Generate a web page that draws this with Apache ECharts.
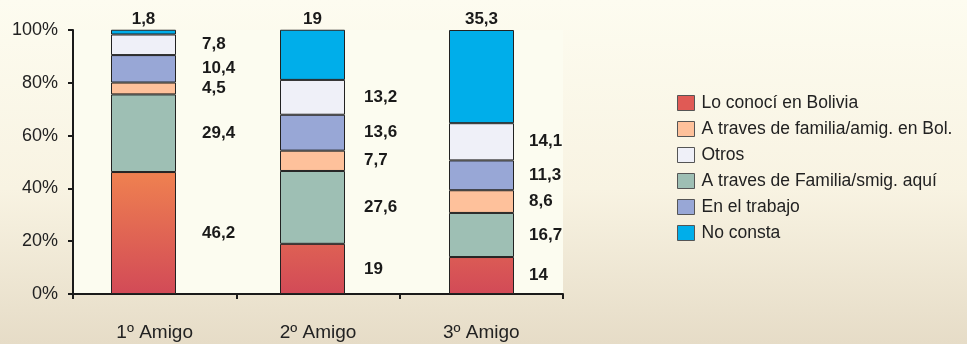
<!DOCTYPE html>
<html>
<head>
<meta charset="utf-8">
<script src="https://cdn.jsdelivr.net/npm/echarts@6/dist/echarts.min.js"></script>
<style>
  html, body { margin: 0; padding: 0; }
  #chart { width: 967px; height: 344px; }
</style>
</head>
<body>
<div id="chart"></div>
<script>
// categories along the x axis
const categories = ["1º Amigo", "2º Amigo", "3º Amigo"];
const yTicks = [0, 20, 40, 60, 80, 100];

// series values (percent), bottom of the stack first
const bolivia = [46.2, 19, 14];
const familiaAqui = [29.4, 27.6, 16.7];
const familiaBol = [4.5, 7.7, 8.6];
const trabajo = [10.4, 13.6, 11.3];
const otros = [7.8, 13.2, 14.1];
const noConsta = [1.8, 19, 35.3];

const legendOrder = [
  "Lo conocí en Bolivia",
  "A traves de familia/amig. en Bol.",
  "Otros",
  "A traves de Familia/smig. aquí",
  "En el trabajo",
  "No consta",
];

// --- styling / layout below ---
const FONT = "Liberation Sans, Arial, sans-serif";
const labelDist = [26, 19, 15];
const fmt = (v) => String(v).replace(".", ",");

const redGrad = new echarts.graphic.LinearGradient(0, 294, 0, 172, [
  { offset: 0, color: "#d24a57" },
  { offset: 1, color: "#ef8150" },
], true);

const stack = [
  { name: "Lo conocí en Bolivia", data: bolivia, color: redGrad, legendColor: "#e05a55" },
  { name: "A traves de Familia/smig. aquí", data: familiaAqui, color: "#9ebfb4" },
  { name: "A traves de familia/amig. en Bol.", data: familiaBol, color: "#fec19b" },
  { name: "En el trabajo", data: trabajo, color: "#98a7d6" },
  { name: "Otros", data: otros, color: "#eff0f8" },
  { name: "No consta", data: noConsta, color: "#00aeea", top: true },
];

const series = stack.map((s) => ({
  name: s.name,
  type: "bar",
  stack: "total",
  xAxisIndex: 1,
  yAxisIndex: 1,
  barWidth: 65,
  clip: true,
  itemStyle: { color: s.color, borderColor: "#222", borderWidth: 1 },
  label: {
    show: true,
    position: s.top ? "top" : "right",
    distance: 2,
    formatter: (p) => fmt(p.value),
    fontFamily: FONT,
    fontWeight: "bold",
    fontSize: 17,
    color: "#1a1a1a",
  },
  data: s.data.map((v, i) => ({
    value: v,
    label: s.top ? {} : { distance: labelDist[i] },
  })),
}));

const chart = echarts.init(document.getElementById("chart"));
chart.setOption({
  animation: false,
  backgroundColor: new echarts.graphic.LinearGradient(0, 0, 0, 1, [
    { offset: 0, color: "#fdfcf0" },
    { offset: 0.55, color: "#f8f3e2" },
    { offset: 1, color: "#e6dcc7" },
  ]),
  grid: [
    { left: 73, top: 30, width: 490, height: 264, show: true, backgroundColor: "#fcfcf0", borderWidth: 0 },
    { left: 59, top: 30, width: 507, height: 264 },
  ],
  legend: {
    orient: "vertical",
    left: 672,
    top: 89,
    itemWidth: 17,
    itemHeight: 15,
    itemGap: 8,
    icon: "rect",
    itemStyle: { borderColor: "#555", borderWidth: 1 },
    textStyle: { fontFamily: FONT, fontSize: 17.5, color: "#222", padding: [0, 0, 0, 2] },
    data: legendOrder.map((n) => {
      const s = stack.find((x) => x.name === n);
      return { name: n, itemStyle: { color: s.legendColor || s.color } };
    }),
  },
  xAxis: [
    {
      type: "category",
      gridIndex: 0,
      data: categories,
      axisLine: { lineStyle: { color: "#1a1a1a", width: 2 } },
      axisTick: { show: true, length: 5, lineStyle: { color: "#1a1a1a", width: 2 } },
      axisLabel: { fontFamily: FONT, fontSize: 19, color: "#222", margin: 29 },
    },
    { type: "category", gridIndex: 1, data: categories, show: false },
  ],
  yAxis: [
    {
      type: "value",
      gridIndex: 0,
      min: yTicks[0],
      max: yTicks[yTicks.length - 1],
      interval: 20,
      axisLine: { show: true, lineStyle: { color: "#1a1a1a", width: 2 } },
      axisTick: { show: true, length: 5, lineStyle: { color: "#1a1a1a", width: 2 } },
      splitLine: { show: false },
      axisLabel: { fontFamily: FONT, fontSize: 18, color: "#222", margin: 15, formatter: "{value}%" },
    },
    { type: "value", gridIndex: 1, min: 0, max: 100, show: false, splitLine: { show: false } },
  ],
  series,
});
</script>
</body>
</html>
